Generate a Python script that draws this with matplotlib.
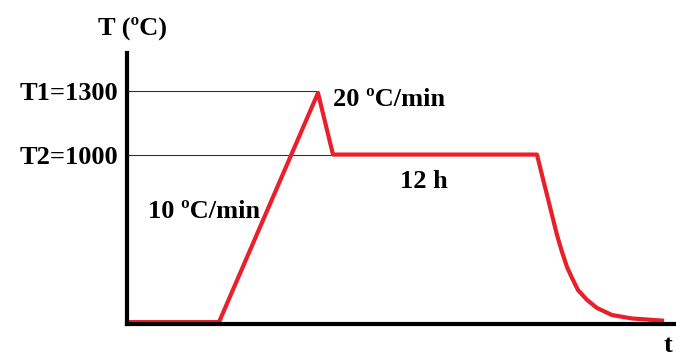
import numpy as np
import matplotlib
matplotlib.use('Agg')
from matplotlib import pyplot as plt

# Zaman (keyfi birim) ve sıcaklık noktaları
zaman = [0, 92, 191, 206, 410, 415, 420, 425, 430, 435, 440, 445, 451, 460, 470, 485, 505, 535]
sicaklik = [215, 215, 1289, 1000, 1000, 904, 811, 717, 623, 544, 473, 422, 365, 319, 281, 248, 232, 222]
# Yatay referans çizgileri
T1 = 1300
T2 = 1000
etiketler = ['T1=1300', 'T2=1000']

plt.rcParams['font.family'] = ['Liberation Serif', 'DejaVu Serif']
plt.rcParams['font.weight'] = 'bold'

W, H = 676, 358
fig = plt.figure(figsize=(W / 100, H / 100), dpi=100)
ax = fig.add_axes([127 / W, 34 / H, 549 / W, 271 / H])

ax.plot([0, 191], [T1, T1], color='#333333', lw=0.8)
ax.plot([0, 206], [T2, T2], color='#333333', lw=0.8)
ax.plot(zaman, sicaklik, color='#e8202a', lw=3, solid_joinstyle='round')

ax.set_xlim(0, 549)
ax.set_ylim(206, 1476)
ax.set_yticks([T1, T2])
ax.set_yticklabels(etiketler, fontsize=19, fontweight='bold')
ax.set_xticks([])
ax.tick_params(axis='y', length=0, pad=6)
for s in ['top', 'right']:
    ax.spines[s].set_visible(False)
for s in ['left', 'bottom']:
    ax.spines[s].set_linewidth(3)
    ax.spines[s].set_color('black')

# Metinler (piksel konumları)
def yazi(x, y, s, ha='left'):
    fig.text(x / W, 1 - y / H, s, ha=ha, va='center', fontsize=19, fontweight='bold')

yazi(132, 28, 'T (ºC)', 'center')
yazi(668, 346, 't', 'center')
yazi(148, 211, '10 ºC/min')
yazi(333, 100, '20 ºC/min')
yazi(424, 181, '12 h', 'center')

fig.savefig('out.png', dpi=100)
